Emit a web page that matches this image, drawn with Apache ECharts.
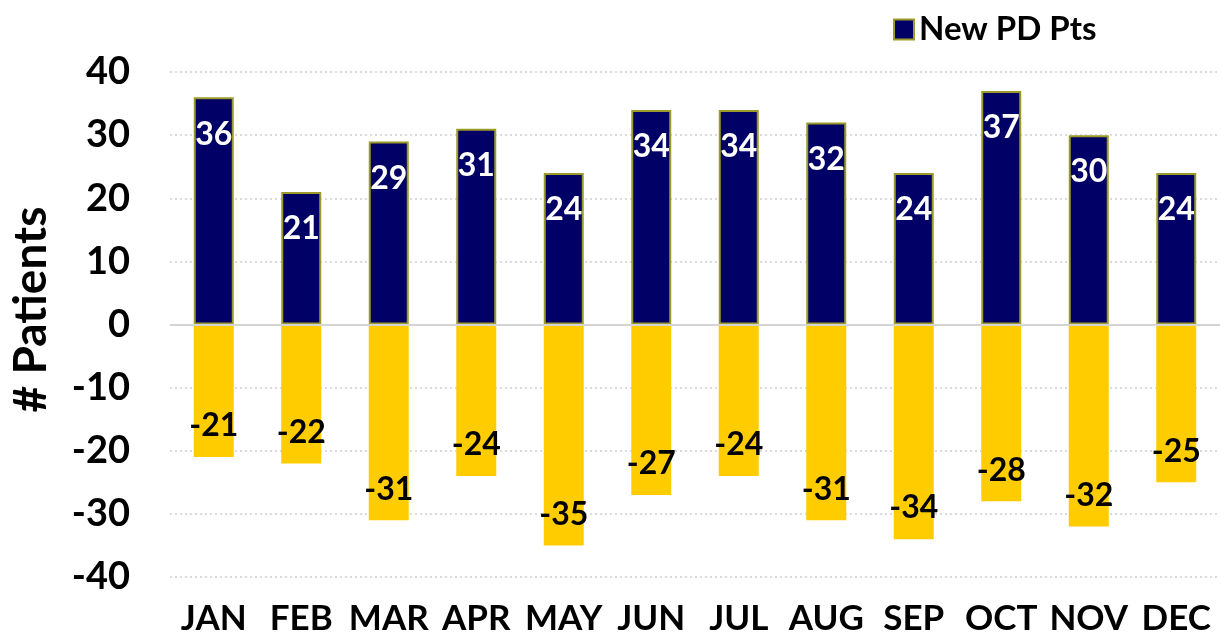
<!DOCTYPE html>
<html>
<head>
<meta charset="utf-8">
<script src="https://cdn.jsdelivr.net/npm/echarts@6/dist/echarts.min.js"></script>
<style>
html,body{margin:0;padding:0;background:#fff;}
#chart{width:1224px;height:636px;}
</style>
</head>
<body>
<div id="chart"></div>
<script>
const months = ['JAN','FEB','MAR','APR','MAY','JUN','JUL','AUG','SEP','OCT','NOV','DEC'];
const newPdPts = [36,21,29,31,24,34,34,32,24,37,30,24];
const lostPts = [-21,-22,-31,-24,-35,-27,-24,-31,-34,-28,-32,-25];
const yTicks = [-40,-30,-20,-10,0,10,20,30,40];

const FONT = 'Lato';
const chart = echarts.init(document.getElementById('chart'));
chart.setOption({
  animation: false,
  backgroundColor: '#ffffff',
  textStyle: {fontFamily: FONT},
  legend: {
    data: [{name: 'New PD Pts', icon: 'rect'}],
    top: 8,
    left: 888,
    itemWidth: 20,
    itemHeight: 20,
    itemGap: 10,
    textStyle: {fontFamily: FONT, fontWeight: 'bold', fontSize: 33, color: '#000'}
  },
  grid: {left: 163, right: 4, top: 72, bottom: 56, containLabel: false},
  xAxis: {
    type: 'category',
    data: months,
    axisLine: {show: false, onZero: false},
    axisTick: {show: false},
    axisLabel: {fontFamily: FONT, fontWeight: 'bold', fontSize: 35, color: '#000', margin: 24, interval: 0}
  },
  yAxis: {
    type: 'value',
    min: yTicks[0],
    max: yTicks[yTicks.length - 1],
    interval: 10,
    name: '# Patients',
    nameLocation: 'middle',
    nameGap: 116,
    nameTextStyle: {fontFamily: FONT, fontWeight: 'bold', fontSize: 46, color: '#000', padding: [0, 0, 0, 30]},
    axisLine: {show: false},
    axisTick: {show: false},
    axisLabel: {fontFamily: FONT, fontWeight: 'bold', fontSize: 38, color: '#000', margin: 40},
    splitLine: {lineStyle: {type: [2, 3], color: '#cfcfcf', width: 1.5}}
  },
  series: [
    {
      name: 'New PD Pts',
      type: 'bar',
      stack: 'total',
      barWidth: 40,
      data: newPdPts,
      itemStyle: {color: '#000066', borderColor: '#9c9a2a', borderWidth: 2},
      label: {
        show: true,
        position: 'insideTop',
        distance: 21,
        fontFamily: FONT, fontWeight: 'bold', fontSize: 32, color: '#ffffff'
      },
      markLine: {
        silent: true,
        symbol: 'none',
        label: {show: false},
        lineStyle: {color: '#d4d4d4', type: 'solid', width: 2},
        data: [{yAxis: 0}]
      },
      z: 3
    },
    {
      name: 'Lost PD Pts',
      type: 'bar',
      stack: 'total',
      barWidth: 40,
      data: lostPts,
      itemStyle: {color: '#ffcc00'},
      label: {
        show: true,
        position: 'insideBottom',
        distance: 15,
        fontFamily: FONT, fontWeight: 'bold', fontSize: 32, color: '#000000'
      },
      z: 2
    }
  ]
});
</script>
</body>
</html>
